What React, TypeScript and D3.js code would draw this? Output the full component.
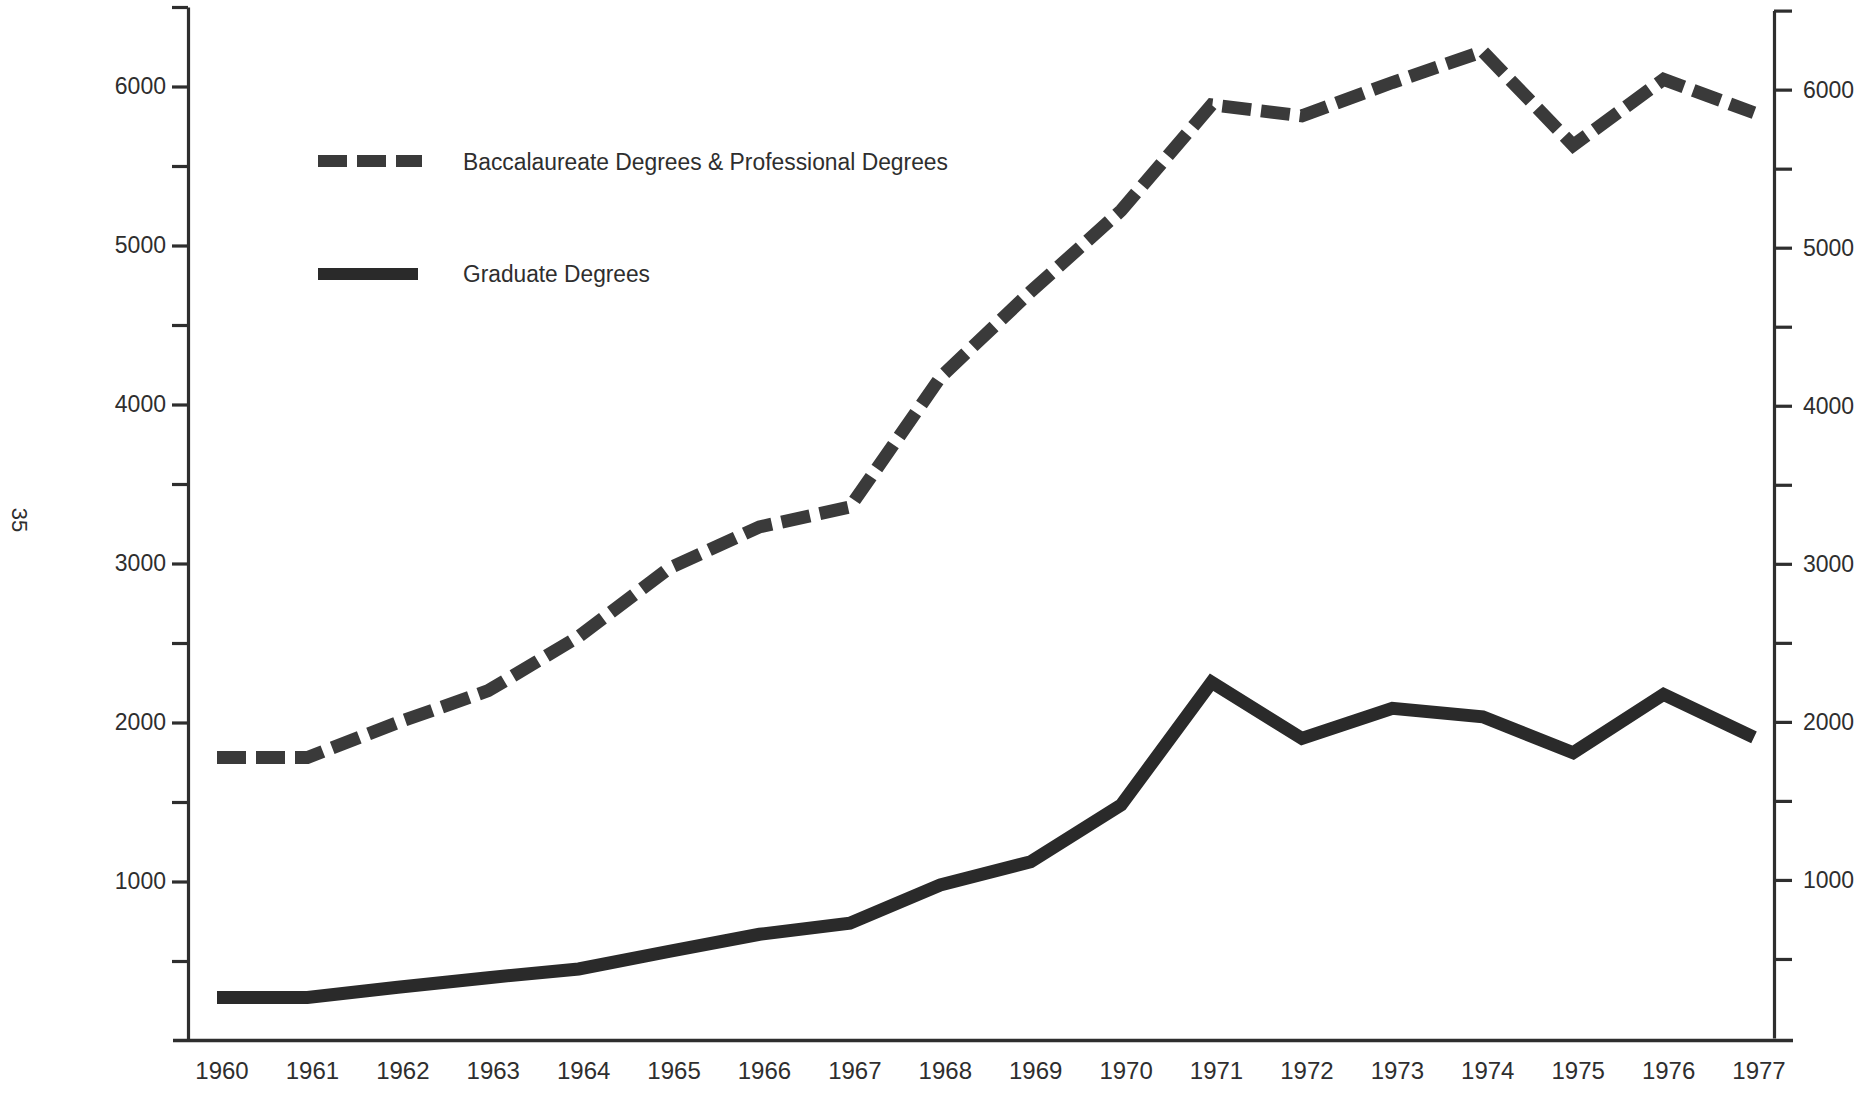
import React, { useEffect, useRef } from "react";
import * as d3 from "d3";

const years = [1960, 1961, 1962, 1963, 1964, 1965, 1966, 1967, 1968, 1969, 1970, 1971, 1972, 1973, 1974, 1975, 1976, 1977];
const baccalaureate = [1780, 1780, 2000, 2200, 2540, 2970, 3230, 3355, 4170, 4710, 5220, 5885, 5815, 6025, 6220, 5630, 6045, 5835];
const graduate = [270, 270, 335, 395, 450, 560, 668, 738, 978, 1124, 1481, 2253, 1900, 2089, 2036, 1810, 2177, 1907];
const yTickValues = [500, 1000, 1500, 2000, 2500, 3000, 3500, 4000, 4500, 5000, 5500, 6000, 6500];
const legendLabels = ["Baccalaureate Degrees & Professional Degrees", "Graduate Degrees"];
const pageNumber = "35";

const W = 1875;
const H = 1094;
const FONT = "'Liberation Sans', Arial, Helvetica, sans-serif";
const INK = "#2e2e2e";

export default function App() {
  const leftRef = useRef<SVGGElement>(null);
  const rightRef = useRef<SVGGElement>(null);

  const x = d3.scaleLinear().domain([1960, 1977]).range([217, 1754]);
  const yL = d3.scaleLinear().domain([0, 6500]).range([1040.5, 7]);
  const yR = d3.scaleLinear().domain([0, 6500]).range([1038, 10.6]);

  const line = d3
    .line<number>()
    .x((_, i) => x(years[i]))
    .y((d) => yL(d));

  useEffect(() => {
    const fmt = (d: any) => (d % 1000 === 0 ? String(d) : "");
    const style = (g: d3.Selection<SVGGElement, unknown, null, undefined>) => {
      g.select(".domain").attr("stroke", INK).attr("stroke-width", 3.2);
      g.selectAll(".tick line").attr("stroke", INK).attr("stroke-width", 3.2);
      g.selectAll(".tick text")
        .attr("fill", INK)
        .attr("font-size", 23)
        .attr("font-family", FONT);
    };
    if (leftRef.current) {
      const g = d3.select(leftRef.current);
      g.selectAll("*").remove();
      g.call(
        d3.axisLeft(yL).tickValues(yTickValues).tickSize(16).tickSizeOuter(0).tickPadding(6).tickFormat(fmt as any)
      );
      g.attr("font-family", FONT);
      style(g);
    }
    if (rightRef.current) {
      const g = d3.select(rightRef.current);
      g.selectAll("*").remove();
      g.call(
        d3.axisRight(yR).tickValues(yTickValues).tickSize(18).tickSizeOuter(0).tickPadding(11).tickFormat(fmt as any)
      );
      g.attr("font-family", FONT);
      style(g);
    }
  }, []);

  return (
    <svg
      width={W}
      height={H}
      viewBox={`0 0 ${W} ${H}`}
      style={{ position: "absolute", left: 0, top: 0, background: "#ffffff" }}
    >
      <rect x={0} y={0} width={W} height={H} fill="#ffffff" />

      {/* x axis baseline */}
      <line x1={173} x2={1793} y1={1040.5} y2={1040.5} stroke={INK} strokeWidth={3.6} />

      <g ref={leftRef} transform="translate(188,0)" />
      <g ref={rightRef} transform="translate(1774,0)" />

      {/* year labels */}
      <g fontFamily={FONT} fontSize={24} fill={INK} textAnchor="middle">
        {years.map((yr) => (
          <text key={yr} x={x(yr) + 5} y={1079}>
            {yr}
          </text>
        ))}
      </g>

      {/* series */}
      <path
        d={line(baccalaureate) || ""}
        fill="none"
        stroke="#3a3a3a"
        strokeWidth={13}
        strokeDasharray="29 10"
        strokeLinejoin="miter"
        strokeLinecap="butt"
      />
      <path
        d={line(graduate) || ""}
        fill="none"
        stroke="#2a2a2a"
        strokeWidth={13}
        strokeLinejoin="miter"
        strokeLinecap="butt"
      />

      {/* legend */}
      <line x1={318} x2={422} y1={161} y2={161} stroke="#3a3a3a" strokeWidth={12} strokeDasharray="29 10" />
      <text x={463} y={170} fontFamily={FONT} fontSize={23} fill={INK} textLength={485} lengthAdjust="spacingAndGlyphs">
        {legendLabels[0]}
      </text>
      <line x1={318} x2={418} y1={274} y2={274} stroke="#2a2a2a" strokeWidth={12} />
      <text x={463} y={282} fontFamily={FONT} fontSize={23} fill={INK} textLength={187} lengthAdjust="spacingAndGlyphs">
        {legendLabels[1]}
      </text>

      {/* page number */}
      <text
        transform="translate(12,520) rotate(90)"
        fontFamily={FONT}
        fontSize={22}
        fill={INK}
        textAnchor="middle"
      >
        {pageNumber}
      </text>
    </svg>
  );
}
